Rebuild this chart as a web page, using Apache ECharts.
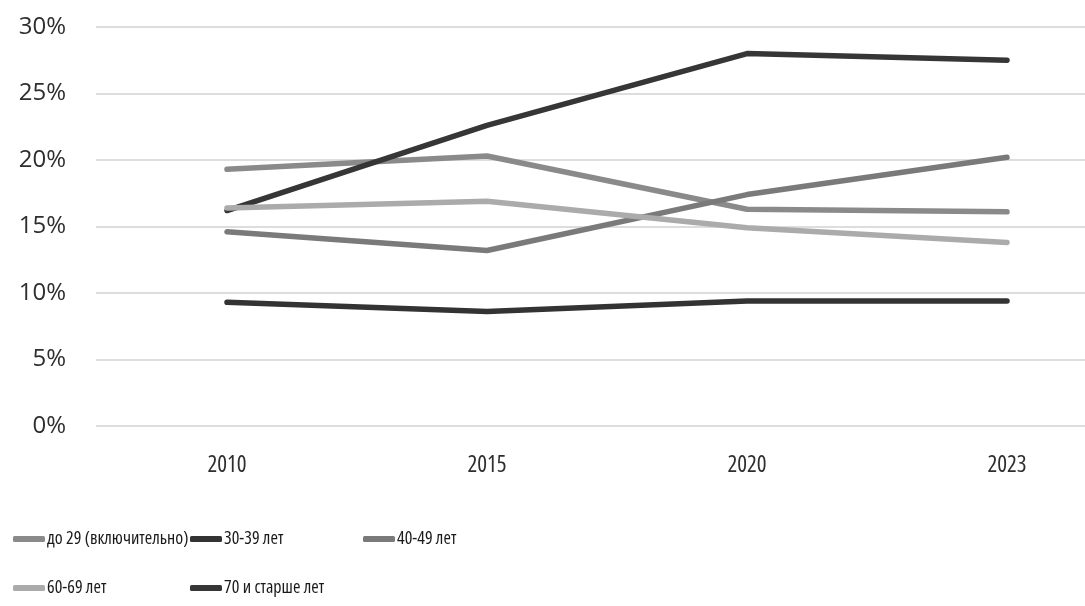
<!DOCTYPE html>
<html><head><meta charset="utf-8">
<script src="https://cdn.jsdelivr.net/npm/echarts@6/dist/echarts.min.js"></script>
<style>html,body{margin:0;padding:0;background:#fff}#c{width:1085px;height:606px}</style>
</head><body><div id="c"></div>
<script>
const categories = ['2010', '2015', '2020', '2023'];
const yTicks = [0, 5, 10, 15, 20, 25, 30];
const seriesNames = ['до 29 (включительно)', '30-39 лет', '40-49 лет', '60-69 лет', '70 и старше лет'];
const under29 = [19.3, 20.3, 16.3, 16.1];
const age30to39 = [9.3, 8.6, 9.4, 9.4];
const age40to49 = [14.6, 13.2, 17.4, 20.2];
const age60to69 = [16.4, 16.9, 14.9, 13.8];
const age70plus = [16.2, 22.6, 28.0, 27.5];

const colors = ['#8a8a8a', '#333333', '#7a7a7a', '#ababab', '#363636'];
const values = [under29, age30to39, age40to49, age60to69, age70plus];
const zs = [2, 2, 2, 4, 3];
const fontFam = '"Open Sans", "Roboto Condensed", sans-serif';

const legendPos = [[13, 530], [190, 530], [363, 530], [13, 579], [190, 579]];

const chart = echarts.init(document.getElementById('c'));
chart.setOption({
  animation: false,
  backgroundColor: '#fff',
  grid: [
    { left: 96, right: 0, top: 27, height: 399, containLabel: false },
    { left: 227, right: 78, top: 27, height: 399, containLabel: false }
  ],
  xAxis: [
    { gridIndex: 0, type: 'category', data: categories, show: false },
    { gridIndex: 1, type: 'category', data: categories, boundaryGap: false,
      axisLine: { show: false }, axisTick: { show: false },
      axisLabel: { color: '#2e2e2e', fontSize: 23, fontFamily: fontFam, fontWeight: '500 condensed', margin: 28 } }
  ],
  yAxis: [
    { gridIndex: 0, type: 'value', min: 0, max: 30, interval: 5,
      axisLine: { show: false }, axisTick: { show: false },
      splitLine: { lineStyle: { color: '#d2d2d2', width: 1.5 } },
      axisLabel: { color: '#2e2e2e', fontSize: 24, fontFamily: fontFam, fontWeight: 500, margin: 30,
        formatter: v => (yTicks.includes(v) ? v + '%' : '') } },
    { gridIndex: 1, type: 'value', min: 0, max: 30, interval: 5, show: false, splitLine: { show: false } }
  ],
  legend: seriesNames.map((n, i) => ({
    data: [n], left: legendPos[i][0], top: legendPos[i][1], icon: 'roundRect',
    itemWidth: 32, itemHeight: 6, padding: 0,
    textStyle: { color: '#1a1a1a', fontSize: 18, fontFamily: fontFam, fontWeight: '500 condensed', padding: [0, 0, 0, -3] }
  })),
  series: seriesNames.map((n, i) => ({
    name: n, type: 'line', data: values[i], symbol: 'none', color: colors[i],
    xAxisIndex: 1, yAxisIndex: 1, z: zs[i],
    lineStyle: { width: 5.5, color: colors[i], cap: 'round', join: 'round' }
  }))
});
</script></body></html>
